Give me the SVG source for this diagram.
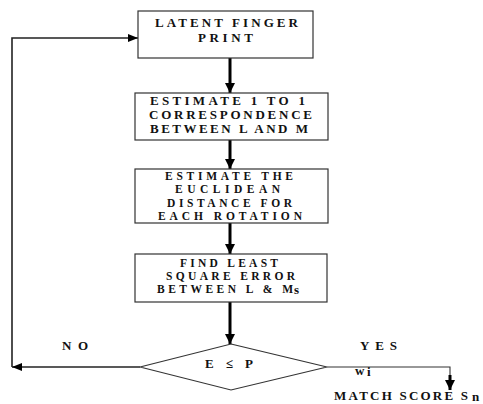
<svg xmlns="http://www.w3.org/2000/svg" width="483" height="404" viewBox="0 0 483 404">
<style>
.box{fill:#fff;stroke:#333;stroke-width:1.2}
.t{font-family:"Liberation Serif","Times New Roman",serif;font-weight:bold;font-size:13px;fill:#111;text-anchor:start}
.m{font-size:11.5px}
.thick{stroke:#000;stroke-width:3;fill:none}
.thin{stroke:#222;stroke-width:1.6;fill:none}
.hair{stroke:#333;stroke-width:1.1;fill:none}
</style>
<defs>
<marker id="ah" viewBox="0 0 10 10" refX="10" refY="5" markerWidth="10" markerHeight="10" markerUnits="userSpaceOnUse" orient="auto"><path d="M0,0 L10,5 L0,10 z" fill="#000"/></marker>
<marker id="ahs" viewBox="0 0 10 8" refX="10" refY="4" markerWidth="10" markerHeight="8" markerUnits="userSpaceOnUse" orient="auto"><path d="M0,0 L10,4 L0,8 z" fill="#000"/></marker>
</defs>
<g id="connectors">
<line class="thick" x1="230" y1="58" x2="230" y2="93" marker-end="url(#ah)"/>
<line class="thick" x1="230" y1="140" x2="230" y2="169" marker-end="url(#ah)"/>
<line class="thick" x1="230" y1="223" x2="230" y2="254" marker-end="url(#ah)"/>
<line class="thick" x1="230" y1="302" x2="230" y2="344" marker-end="url(#ah)"/>
<line class="thin" x1="140" y1="367" x2="12" y2="367" marker-end="url(#ahs)"/>
<polyline class="thin" points="12,367 12,38 138,38" marker-end="url(#ahs)"/>
<polyline class="hair" points="327,367 450,367 450,376"/>
<line class="thick" x1="450" y1="375" x2="450" y2="390" stroke-width="2" marker-end="url(#ah)"/>
</g>
<g id="n1">
<rect class="box" x="138" y="11" width="175" height="47"/>
<text class="t" x="155" y="27" font-size="14" textLength="143" lengthAdjust="spacing">LATENT FINGER</text>
<text class="t" x="198" y="42" font-size="14" textLength="55" lengthAdjust="spacing">PRINT</text>
</g>
<g id="n2">
<rect class="box" x="135" y="93" width="193" height="47"/>
<text class="t" x="150" y="105" font-size="12" textLength="155" lengthAdjust="spacing">ESTIMATE 1 TO 1</text>
<text class="t" x="149" y="119" font-size="12" textLength="163" lengthAdjust="spacing">CORRESPONDENCE</text>
<text class="t" x="150" y="133" font-size="12" textLength="158" lengthAdjust="spacing">BETWEEN L AND M</text>
</g>
<g id="n3">
<rect class="box" x="135" y="169" width="193" height="54"/>
<text class="t m" x="165" y="180" textLength="128" lengthAdjust="spacing">ESTIMATE THE</text>
<text class="t m" x="175" y="193.3" textLength="105" lengthAdjust="spacing">EUCLIDEAN</text>
<text class="t m" x="167" y="206.6" textLength="125" lengthAdjust="spacing">DISTANCE FOR</text>
<text class="t m" x="158" y="220" textLength="144" lengthAdjust="spacing">EACH ROTATION</text>
</g>
<g id="n4">
<rect class="box" x="135" y="254" width="192" height="48"/>
<text class="t m" x="180" y="267" textLength="98" lengthAdjust="spacing">FIND LEAST</text>
<text class="t m" x="166" y="280" textLength="129" lengthAdjust="spacing">SQUARE ERROR</text>
<text class="t m" x="157" y="293" textLength="136" lengthAdjust="spacing">BETWEEN L &amp; M</text>
<text class="t" x="294" y="294" font-size="7">s</text>
</g>
<g id="decision">
<polygon class="box" points="231,344 327,367 231,390 140,367"/>
<text class="t" x="205" y="368" font-size="14" textLength="48" lengthAdjust="spacing">E ≤ P</text>
</g>
<g id="labels">
<text class="t" x="62" y="350" textLength="26" lengthAdjust="spacing">NO</text>
<text class="t" x="360" y="350" textLength="37" lengthAdjust="spacing">YES</text>
<text class="t" x="355" y="375" font-size="10">w</text>
<text class="t" x="367" y="376" font-size="7">i</text>
<text class="t" x="334" y="400" font-size="9" textLength="134" lengthAdjust="spacing">MATCH SCORE S</text>
<text class="t" x="472" y="401" font-size="7">n</text>
</g>
</svg>
